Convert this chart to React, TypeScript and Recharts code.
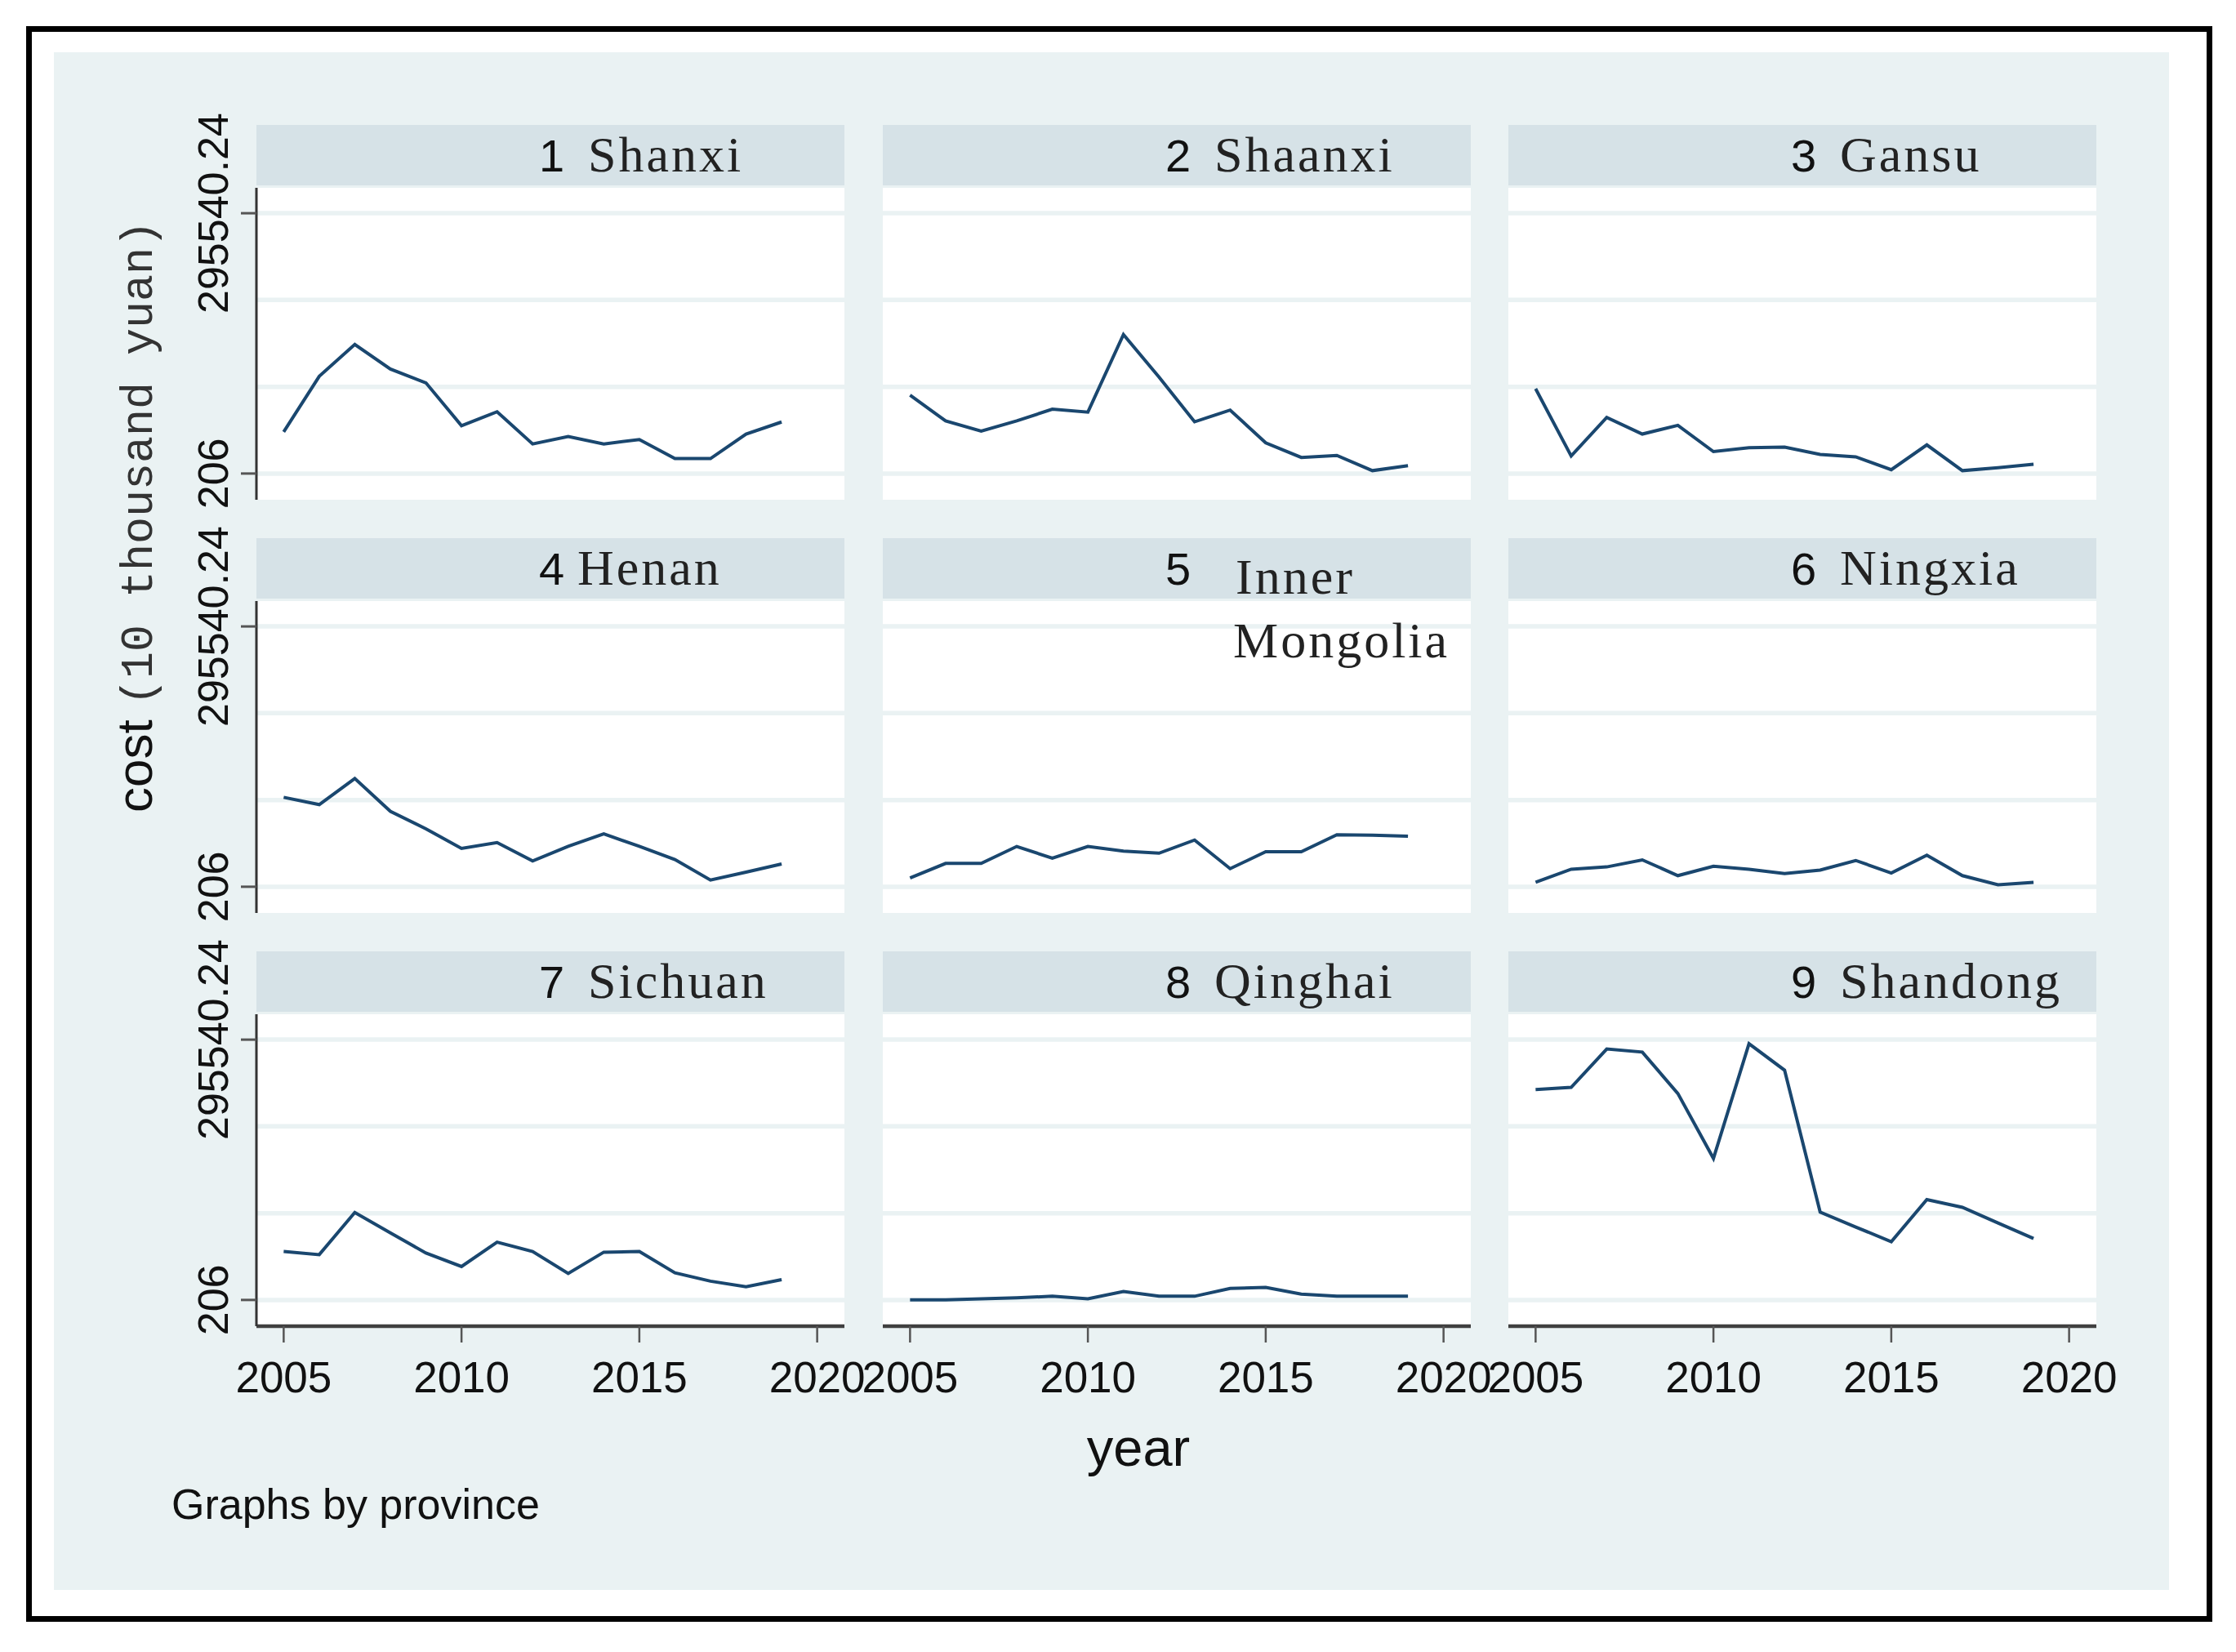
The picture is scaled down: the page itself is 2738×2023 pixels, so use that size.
import React from 'react';
import {CartesianGrid, Line, LineChart, XAxis, YAxis} from 'recharts';

// years on the x axis
const years = [2005, 2006, 2007, 2008, 2009, 2010, 2011, 2012, 2013, 2014, 2015, 2016, 2017, 2018, 2019];

// cost (10 thousand yuan)
const shanxi = [47500, 110500, 146600, 118800, 103100, 54500, 70300, 33800, 42100, 33800, 38800, 17200, 17200, 45000, 58700];
const shaanxi = [89100, 59900, 48300, 59900, 73200, 69900, 157800, 109700, 58900, 72200, 35000, 18500, 20800, 3500, 9200];
const gansu = [96400, 20100, 63900, 45000, 54900, 25100, 29400, 30100, 21800, 19100, 4500, 32700, 3500, 6800, 10800];
const henan = [101700, 93400, 123000, 85800, 65900, 43700, 50300, 29400, 46000, 60300, 46000, 31100, 7800, 16800, 26100];
const innerMongolia = [10100, 26700, 26700, 45900, 32600, 45900, 40600, 38300, 53200, 20700, 39900, 39900, 59100, 58800, 57500];
const ningxia = [5200, 20100, 22700, 30700, 12800, 23400, 20100, 15100, 19100, 30000, 15800, 36000, 12800, 2500, 5200];
const sichuan = [55200, 51600, 99500, 76400, 53400, 38100, 65800, 55200, 30300, 54400, 55200, 31000, 21500, 15100, 23200];
const qinghai = [300, 300, 1600, 2700, 4400, 1600, 9800, 4400, 4400, 13300, 14400, 6900, 4400, 4400, 4400];
const shandong = [238950, 241430, 284930, 281400, 234350, 160790, 290950, 260880, 99950, 82970, 66350, 114100, 105250, 87570, 69890];

const provinceNames = ['Shanxi', 'Shaanxi', 'Gansu', 'Henan', 'Inner Mongolia', 'Ningxia', 'Sichuan', 'Qinghai', 'Shandong'];
const provinceCosts = [shanxi, shaanxi, gansu, henan, innerMongolia, ningxia, sichuan, qinghai, shandong];

const yTicks = [206, 295540.24];
const yGrid = [206, 98650.75, 197095.49, 295540.24];
const xTicks = [2005, 2010, 2015, 2020];

// layout (page pixels)
const W = 2738;
const H = 2023;
const PLOT_W = 720;
const PLOT_H = 382;
const AXIS_W = 120;
const AXIS_H = 130;
const PAD_V = 140;
const PAD_H = 80;
const colLeft = [314, 1081, 1847];
const rowTop = [230, 736, 1242];

const BG = '#eaf2f3';
const STRIP = '#d6e2e7';
const NAVY = '#1a476f';
const SANS = '"Liberation Sans", Arial, sans-serif';
const SERIF = '"Liberation Serif", "Times New Roman", serif';
const MONO = '"Liberation Mono", "Courier New", monospace';

const YTick = (props: any) => {
    const {y, payload} = props;
    const bx = AXIS_W - 35;
    return (
        <text x={bx} y={y} transform={`rotate(-90 ${bx} ${y})`} textAnchor="middle"
              fontSize={52} fontFamily={SANS} fill="#111">
            {String(payload.value)}
        </text>
    );
};

const Panel = ({idx}: {idx: number}) => {
    const col = idx % 3;
    const row = Math.floor(idx / 3);
    const showY = col === 0;
    const showX = row === 2;
    const data = years.map((year, i) => ({year, cost: provinceCosts[idx][i]}));
    const mLeft = showY ? 0 : PAD_H;
    const mBottom = showX ? 0 : PAD_V;
    const w = PLOT_W + (showY ? AXIS_W : 0) + mLeft + PAD_H;
    const h = PLOT_H + (showX ? AXIS_H : 0) + PAD_V + mBottom;
    return (
        <div style={{position: 'absolute', left: colLeft[col] - (showY ? AXIS_W : PAD_H), top: rowTop[row] - PAD_V}}>
            <LineChart width={w} height={h} data={data}
                       margin={{top: PAD_V, right: PAD_H, bottom: mBottom, left: mLeft}}>
                <CartesianGrid vertical={false} horizontalValues={yGrid} stroke={BG} strokeWidth={5.5} fill="#ffffff"/>
                <XAxis type="number" dataKey="year" domain={[2004.234, 2020.766]} ticks={xTicks} interval={0}
                       allowDataOverflow hide={!showX} height={AXIS_H}
                       axisLine={{stroke: '#404040', strokeWidth: 4.5}}
                       tickLine={{stroke: '#555', strokeWidth: 2.5}} tickSize={20} tickMargin={23}
                       tick={{fontSize: 53, fill: '#111', fontFamily: SANS}}/>
                <YAxis type="number" domain={[-29550, 324370]} ticks={yTicks} interval={0} allowDataOverflow
                       hide={!showY} width={AXIS_W}
                       axisLine={{stroke: '#333', strokeWidth: 3}}
                       tickLine={{stroke: '#555', strokeWidth: 3}} tickSize={19}
                       tick={(p: any) => <YTick {...p}/>}/>
                <Line type="linear" dataKey="cost" stroke={NAVY} strokeWidth={4} dot={false}
                      isAnimationActive={false}/>
            </LineChart>
        </div>
    );
};

const StripLabel = ({idx}: {idx: number}) => {
    const col = idx % 3;
    const row = Math.floor(idx / 3);
    const cx = colLeft[col] + PLOT_W / 2;
    const base = rowTop[row] - 20;
    const name = provinceNames[idx];
    const words = name.split(' ');
    return (
        <g>
            <text x={cx - 14} y={base} fontFamily={SANS} fontSize={56} fill="#111">{idx + 1}</text>
            {words.length > 1 ? (
                words.map((wd, k) => (
                    <text key={wd} x={cx + 72 - k * 3} y={base + 11 + k * 78} fontFamily={SERIF} fontSize={62}
                          letterSpacing={3} fill="#222">{wd}</text>
                ))
            ) : (
                <text x={cx + (name === 'Henan' ? 33 : 46)} y={base} fontFamily={SERIF} fontSize={62}
                      letterSpacing={3} fill="#222">{name}</text>
            )}
        </g>
    );
};

const App: React.FC = () => {
    return (
        <div style={{position: 'absolute', left: 0, top: 0, width: W, height: H, background: '#fff', overflow: 'hidden'}}>
            <svg width={W} height={H} style={{position: 'absolute', left: 0, top: 0}}>
                <rect x={35.5} y={35.5} width={2670} height={1947} fill="none" stroke="#000" strokeWidth={7}/>
                <rect x={66} y={64} width={2590} height={1883} fill={BG}/>
                {provinceNames.map((_, i) => (
                    <rect key={i} x={colLeft[i % 3]} y={rowTop[Math.floor(i / 3)] - 77} width={PLOT_W} height={74}
                          fill={STRIP}/>
                ))}
            </svg>
            {provinceNames.map((_, i) => <Panel key={i} idx={i}/>)}
            <svg width={W} height={H} style={{position: 'absolute', left: 0, top: 0, pointerEvents: 'none'}}>
                {provinceNames.map((_, i) => <StripLabel key={i} idx={i}/>)}
                <text x={186} y={995} transform="rotate(-90 186 995)" fontFamily={SANS} fontSize={62}
                      fill="#111">cost</text>
                <text x={186} y={864} transform="rotate(-90 186 864)" fontFamily={MONO} fontSize={55}
                      fill="#333">(10 thousand yuan)</text>
                <text x={1394} y={1795} textAnchor="middle" fontFamily={SANS} fontSize={65} fill="#111">year</text>
                <text x={210} y={1860} fontFamily={SANS} fontSize={52} fill="#111">Graphs by province</text>
            </svg>
        </div>
    );
};

export default App;
